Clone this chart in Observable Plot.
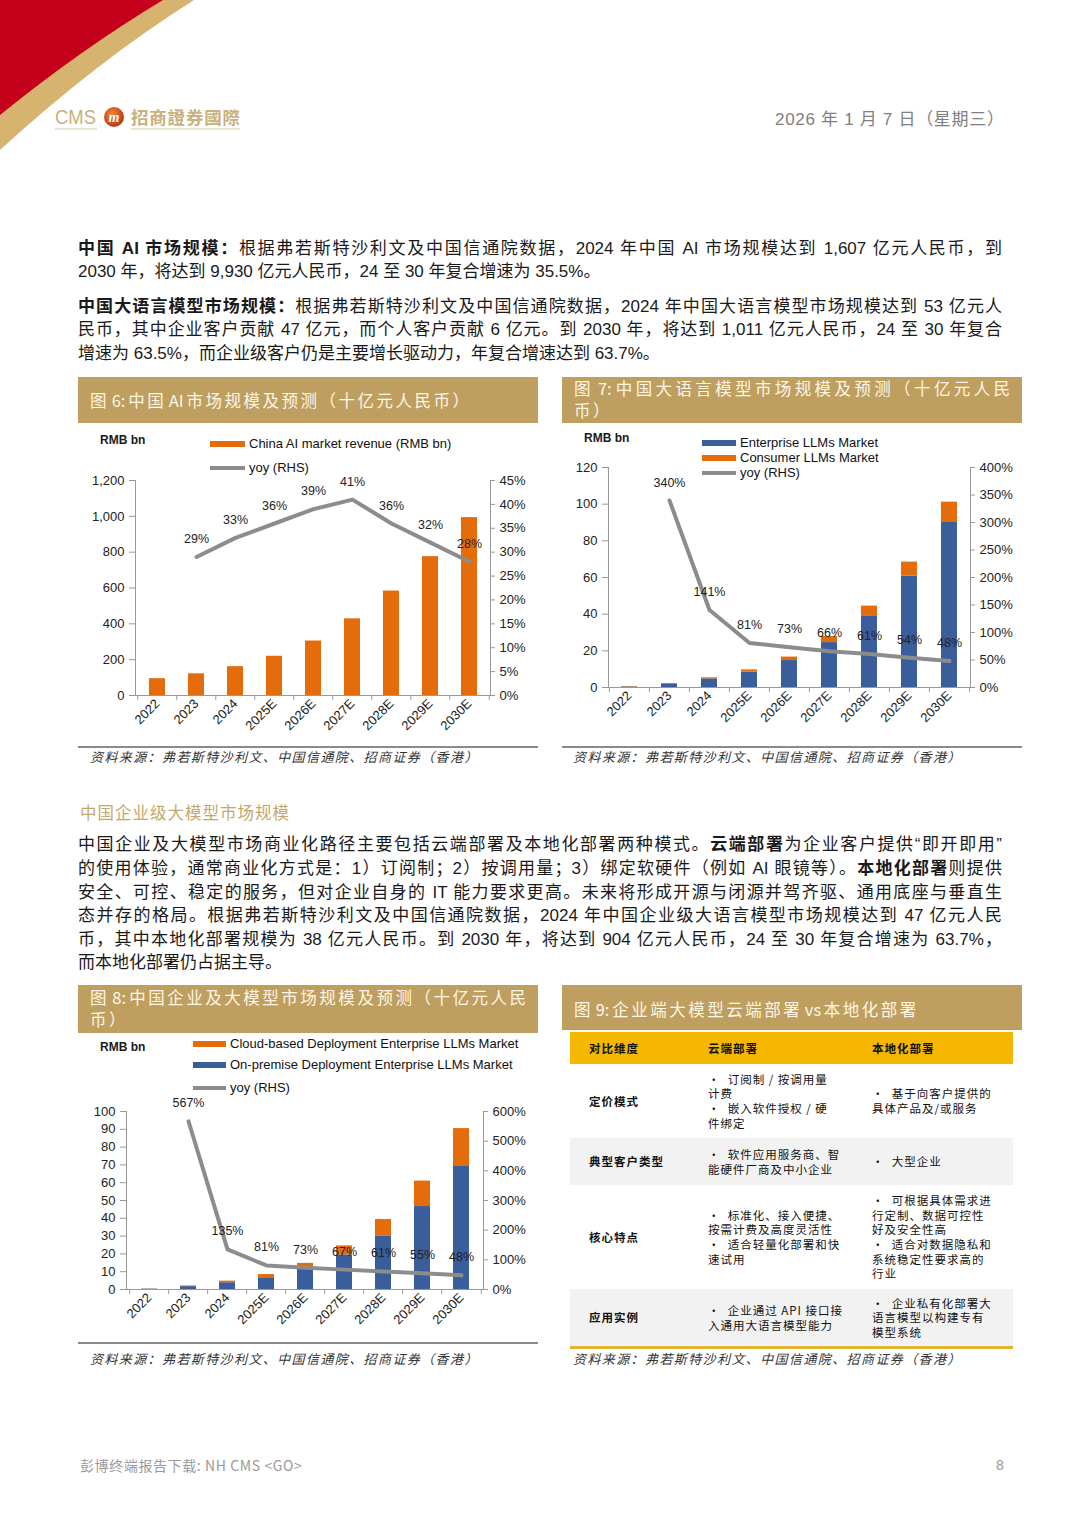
<!DOCTYPE html>
<html lang="zh-CN">
<head>
<meta charset="utf-8">
<script src="https://cdn.jsdelivr.net/npm/d3@7"></script>
<script src="https://cdn.jsdelivr.net/npm/@observablehq/plot@0.6"></script>
<style>
html,body{margin:0;padding:0;background:#fff;}
#page{position:relative;width:1080px;height:1526px;overflow:hidden;background:#fff;font-family:"Liberation Sans",Arial,"Noto Sans CJK SC",sans-serif;color:#1a1a1a;}
.a{position:absolute;}
.ln{position:absolute;left:78px;width:924px;height:24px;line-height:24px;font-size:17px;white-space:nowrap;text-align:justify;text-align-last:justify;}
.ln.l{text-align-last:left;}
.ln b{font-weight:700;}
.tbar{position:absolute;background:#BE9F5F;color:#FFF6E6;font-family:"Noto Sans CJK SC","Liberation Sans",sans-serif;font-size:16.5px;letter-spacing:2.5px;}
.tbar > div{position:absolute;left:12px;white-space:nowrap;line-height:22px;}
.tbar span{letter-spacing:0;word-spacing:-1px;}
.tbar .j{width:438px;text-align:justify;text-align-last:justify;letter-spacing:2px;}
.src{position:absolute;font-family:"Noto Sans CJK SC",sans-serif;font-style:italic;font-size:13px;letter-spacing:1.4px;color:#333;white-space:nowrap;line-height:18px;}
.rule{position:absolute;height:2px;background:#8a8a8a;}
.rmb{position:absolute;font-weight:700;font-size:12px;line-height:14px;white-space:nowrap;}
.lg{position:absolute;font-size:13px;line-height:16px;white-space:nowrap;color:#111;}
.sw{position:absolute;}
.chart{position:absolute;}
#tbl{position:absolute;left:570px;top:1032px;width:443px;font-family:"Noto Sans CJK SC",sans-serif;font-size:11.5px;letter-spacing:1px;color:#111;}
#tbl .row{position:relative;width:443px;}
#tbl .cell{position:absolute;top:0;bottom:0;display:flex;align-items:center;white-space:nowrap;line-height:14.6px;}
#tbl .hd{background:#F5B700;height:32px;font-weight:700;}
#tbl .g{background:#F2F2F2;}
#tbl .lab{font-weight:700;}
</style>
</head>
<body>
<div id="page">
  <svg class="a" style="left:0;top:0" width="260" height="160">
    <path d="M0,0 L194,0 Q96,62 0,150 Z" fill="#D6B36E"/>
    <path d="M0,0 L163,0 Q80,50 0,115 Z" fill="#C4001A"/>
    <text x="55" y="124" font-family="Liberation Sans, Arial, sans-serif" font-size="20" fill="#C9B07C" textLength="41" lengthAdjust="spacingAndGlyphs">CMS</text>
    <line x1="55" y1="129" x2="97" y2="129" stroke="#D9C9A4" stroke-width="1"/>
    <defs><radialGradient id="lg1" cx="40%" cy="35%" r="70%"><stop offset="0" stop-color="#F08A3C"/><stop offset="1" stop-color="#B5300E"/></radialGradient></defs>
    <circle cx="114" cy="117" r="10" fill="url(#lg1)"/>
    <text x="114" y="122" text-anchor="middle" font-family="Liberation Serif, serif" font-style="italic" font-weight="700" font-size="14" fill="#fff">m</text>
    <text x="131" y="124" font-family="Noto Sans CJK TC, Noto Sans CJK SC, sans-serif" font-weight="700" font-size="17.5" fill="#C9B07C" textLength="109" lengthAdjust="spacing">招商證券國際</text>
    <line x1="131" y1="129" x2="240" y2="129" stroke="#D9C9A4" stroke-width="1"/>
  </svg>
  <div class="a" style="left:775px;top:109px;font-size:17px;line-height:22px;color:#808080;white-space:nowrap;letter-spacing:0.7px;">2026 年 1 月 7 日（星期三）</div>

  <div class="ln" style="top:237px"><b>中国 AI 市场规模：</b>根据弗若斯特沙利文及中国信通院数据，2024 年中国 AI 市场规模达到 1,607 亿元人民币，到</div>
  <div class="ln l" style="top:260px">2030 年，将达到 9,930 亿元人民币，24 至 30 年复合增速为 35.5%。</div>

  <div class="ln" style="top:295px"><b>中国大语言模型市场规模：</b>根据弗若斯特沙利文及中国信通院数据，2024 年中国大语言模型市场规模达到 53 亿元人</div>
  <div class="ln" style="top:318px">民币，其中企业客户贡献 47 亿元，而个人客户贡献 6 亿元。到 2030 年，将达到 1,011 亿元人民币，24 至 30 年复合</div>
  <div class="ln l" style="top:342px">增速为 63.5%，而企业级客户仍是主要增长驱动力，年复合增速达到 63.7%。</div>

  <div class="tbar" style="left:78px;top:377px;width:460px;height:46px;"><div style="top:12px">图<span> 6: </span>中国<span> AI </span>市场规模及预测（十亿元人民币）</div></div>
  <div class="tbar" style="left:562px;top:377px;width:460px;height:46px;"><div style="top:0px"><div class="j">图<span> 7: </span>中国大语言模型市场规模及预测（十亿元人民</div>币）</div></div>

  <div id="c6" class="chart" style="left:78px;top:425px;"></div>
  <div id="c7" class="chart" style="left:562px;top:425px;"></div>

  <div class="rule" style="left:78px;top:746px;width:460px;"></div>
  <div class="rule" style="left:562px;top:746px;width:460px;"></div>
  <div class="src" style="left:90px;top:748px;">资料来源：弗若斯特沙利文、中国信通院、招商证券（香港）</div>
  <div class="src" style="left:573px;top:748px;">资料来源：弗若斯特沙利文、中国信通院、招商证券（香港）</div>

  <div class="a" style="left:80px;top:801px;font-size:16.5px;line-height:22px;letter-spacing:1px;color:#C6A76B;font-family:'Noto Sans CJK SC',sans-serif;white-space:nowrap;">中国企业级大模型市场规模</div>

  <div class="ln" style="top:833px">中国企业及大模型市场商业化路径主要包括云端部署及本地化部署两种模式。<b>云端部署</b>为企业客户提供“即开即用”</div>
  <div class="ln" style="top:857px">的使用体验，通常商业化方式是：1）订阅制；2）按调用量；3）绑定软硬件（例如 AI 眼镜等）。<b>本地化部署</b>则提供</div>
  <div class="ln" style="top:881px">安全、可控、稳定的服务，但对企业自身的 IT 能力要求更高。未来将形成开源与闭源并驾齐驱、通用底座与垂直生</div>
  <div class="ln" style="top:904px">态并存的格局。根据弗若斯特沙利文及中国信通院数据，2024 年中国企业级大语言模型市场规模达到 47 亿元人民</div>
  <div class="ln" style="top:928px">币，其中本地化部署规模为 38 亿元人民币。到 2030 年，将达到 904 亿元人民币，24 至 30 年复合增速为 63.7%，</div>
  <div class="ln l" style="top:951px">而本地化部署仍占据主导。</div>

  <div class="tbar" style="left:78px;top:985px;width:460px;height:48px;"><div style="top:1px"><div class="j">图<span> 8: </span>中国企业及大模型市场规模及预测（十亿元人民</div>币）</div></div>
  <div class="tbar" style="left:562px;top:985px;width:460px;height:45px;"><div style="top:13px">图<span> 9: </span>企业端大模型云端部署<span> vs </span>本地化部署</div></div>

  <div id="c8" class="chart" style="left:78px;top:1033px;"></div>

  <div id="tbl">
    <div class="row hd">
      <div class="cell" style="left:19px">对比维度</div>
      <div class="cell" style="left:138px">云端部署</div>
      <div class="cell" style="left:302px">本地化部署</div>
    </div>
    <div class="row" style="height:74px">
      <div class="cell lab" style="left:19px">定价模式</div>
      <div class="cell" style="left:138px">•&nbsp; 订阅制 / 按调用量<br>计费<br>•&nbsp; 嵌入软件授权 / 硬<br>件绑定</div>
      <div class="cell" style="left:302px">•&nbsp; 基于向客户提供的<br>具体产品及/或服务</div>
    </div>
    <div class="row g" style="height:47px">
      <div class="cell lab" style="left:19px">典型客户类型</div>
      <div class="cell" style="left:138px">•&nbsp; 软件应用服务商、智<br>能硬件厂商及中小企业</div>
      <div class="cell" style="left:302px">•&nbsp; 大型企业</div>
    </div>
    <div class="row" style="height:104px">
      <div class="cell lab" style="left:19px">核心特点</div>
      <div class="cell" style="left:138px">•&nbsp; 标准化、接入便捷、<br>按需计费及高度灵活性<br>•&nbsp; 适合轻量化部署和快<br>速试用</div>
      <div class="cell" style="left:302px">•&nbsp; 可根据具体需求进<br>行定制、数据可控性<br>好及安全性高<br>•&nbsp; 适合对数据隐私和<br>系统稳定性要求高的<br>行业</div>
    </div>
    <div class="row g" style="height:57px">
      <div class="cell lab" style="left:19px">应用实例</div>
      <div class="cell" style="left:138px">•&nbsp; 企业通过 API 接口接<br>入通用大语言模型能力</div>
      <div class="cell" style="left:302px">•&nbsp; 企业私有化部署大<br>语言模型以构建专有<br>模型系统</div>
    </div>
    <div style="height:3px;background:#E3B335;"></div>
  </div>

  <div class="rule" style="left:78px;top:1342px;width:460px;"></div>
  <div class="src" style="left:90px;top:1350px;">资料来源：弗若斯特沙利文、中国信通院、招商证券（香港）</div>
  <div class="src" style="left:573px;top:1350px;">资料来源：弗若斯特沙利文、中国信通院、招商证券（香港）</div>

  <div class="a" style="left:80px;top:1456px;font-size:14px;line-height:18px;color:#9a9a9a;white-space:nowrap;letter-spacing:0.6px;font-family:'Noto Sans CJK SC','Liberation Sans',sans-serif;">彭博终端报告下载: NH CMS &lt;GO&gt;</div>
  <div class="a" style="left:996px;top:1456px;font-size:14px;line-height:18px;color:#9a9a9a;">8</div>
</div>

<script>
// ---------- data ----------
const years = ["2022", "2023", "2024", "2025E", "2026E", "2027E", "2028E", "2029E", "2030E"];

// Fig 6: China AI market (RMB bn) and yoy (%)
const aiRevenue = [94, 121, 161, 219, 304, 428, 583, 775, 993];
const aiYoy = [null, 29, 33, 36, 39, 41, 36, 32, 28];

// Fig 7: China LLM market (RMB bn) and yoy (%)
const llmEnterprise = [0.3, 2.0, 4.7, 8.4, 14.7, 24.5, 39.1, 60.7, 90.4];
const llmConsumer = [0.2, 0.2, 0.6, 1.2, 1.9, 3.3, 5.3, 7.7, 10.7];
const llmYoy = [null, 340, 141, 81, 73, 66, 61, 54, 48];

// Fig 8: China enterprise LLM market (RMB bn) and yoy (%)
const onPremise = [0.2, 1.6, 3.8, 6.6, 12.4, 19.4, 30.1, 46.6, 69.1];
const cloudBased = [0.1, 0.4, 0.9, 1.8, 2.3, 5.1, 9.2, 14.3, 21.3];
const entYoy = [null, 567, 135, 81, 73, 67, 61, 55, 48];

const orange = "#E46C0A", blue = "#3A5D9C", gray = "#8C8C8C";

function combo(el, cfg) {
  const {series, yoy, yMax, yStep, yFmt, rMax, rStep, width, height, mt, mb, ml, mr, legend} = cfg;
  const rows = [];
  series.forEach(s => years.forEach((yr, i) => rows.push({year: yr, name: s.name, value: s.values[i]})));
  const toL = v => v / rMax * yMax;
  const pts = years.map((yr, i) => ({year: yr, yoy: yoy[i]})).filter(d => d.yoy != null);
  const step = (width - ml - mr) / 9;
  const tl = 5 / (height - mt - mb) * yMax;
  const chart = Plot.plot({
    width, height, marginTop: mt, marginBottom: mb, marginLeft: ml, marginRight: mr,
    style: {fontFamily: '"Liberation Sans", Arial, sans-serif', fontSize: "13px", color: "#222", background: "transparent", overflow: "visible"},
    x: {type: "band", domain: years, paddingInner: 0.6, paddingOuter: 0.3},
    y: {domain: [0, yMax]},
    color: {domain: series.map(s => s.name), range: series.map(s => s.color)},
    marks: [
      Plot.barY(rows, {x: "year", y: "value", fill: "name"}),
      Plot.ruleY([0], {stroke: "#999"}),
      Plot.frame({anchor: "left", stroke: "#999"}),
      Plot.frame({anchor: "right", stroke: "#999"}),
      Plot.ruleX(years, {x: d => d, y1: 0, y2: -tl, dx: -step / 2, stroke: "#999"}),
      Plot.ruleX(years.slice(-1), {x: d => d, y1: 0, y2: -tl, dx: step / 2, stroke: "#999"}),
      Plot.line(pts, {x: "year", y: d => toL(d.yoy), stroke: gray, strokeWidth: 4}),
      Plot.text(pts, {x: "year", y: d => toL(d.yoy), text: d => d.yoy + "%", dy: -18, fontSize: 12.5, fill: "#222"}),
      Plot.axisY(d3.range(0, yMax + yStep / 2, yStep), {anchor: "left", tickFormat: yFmt, tickSize: 6, tickPadding: 5, stroke: "#999", fill: "#222", label: null}),
      Plot.axisY(d3.range(0, rMax + rStep / 2, rStep).map(toL), {anchor: "right", tickFormat: d => Math.round(d / yMax * rMax) + "%", tickSize: 4, tickPadding: 5, stroke: "#999", fill: "#222", label: null}),
      Plot.axisX({tickSize: 0, tickPadding: 6, tickRotate: -45, fill: "#222", label: null})
    ]
  });
  const host = document.getElementById(el);
  host.appendChild(chart);
  const r = document.createElement("div");
  r.className = "rmb"; r.textContent = "RMB bn";
  r.style.left = cfg.rmb[0] + "px"; r.style.top = cfg.rmb[1] + "px";
  host.appendChild(r);
  legend.items.forEach((it, k) => {
    const cy = legend.ys[k];
    const sw = document.createElement("div");
    sw.className = "sw";
    const h = it.type === "line" ? 4 : 6;
    sw.style.left = legend.x + "px"; sw.style.width = legend.w + "px";
    sw.style.top = (cy - h / 2) + "px"; sw.style.height = h + "px";
    sw.style.background = it.color;
    host.appendChild(sw);
    const t = document.createElement("div");
    t.className = "lg"; t.textContent = it.label;
    t.style.left = (legend.x + legend.w + 4) + "px"; t.style.top = (cy - 8) + "px";
    host.appendChild(t);
  });
}

combo("c6", {
  series: [{name: "China AI market revenue (RMB bn)", values: aiRevenue, color: orange}],
  yoy: aiYoy, yMax: 1200, yStep: 200, yFmt: d3.format(","), rMax: 45, rStep: 5,
  width: 460, height: 315, mt: 55, mb: 45, ml: 57, mr: 48,
  rmb: [22, 8],
  legend: {x: 132, w: 35, ys: [19, 43], items: [
    {label: "China AI market revenue (RMB bn)", type: "bar", color: orange},
    {label: "yoy (RHS)", type: "line", color: gray}]}
});

combo("c7", {
  series: [{name: "Enterprise LLMs Market", values: llmEnterprise, color: blue},
           {name: "Consumer LLMs Market", values: llmConsumer, color: orange}],
  yoy: llmYoy, yMax: 120, yStep: 20, yFmt: d3.format("d"), rMax: 400, rStep: 50,
  width: 460, height: 312, mt: 42, mb: 50, ml: 46, mr: 52,
  rmb: [22, 6],
  legend: {x: 140, w: 34, ys: [17.5, 32.5, 48], items: [
    {label: "Enterprise LLMs Market", type: "bar", color: blue},
    {label: "Consumer LLMs Market", type: "bar", color: orange},
    {label: "yoy (RHS)", type: "line", color: gray}]}
});

combo("c8", {
  series: [{name: "On-premise Deployment Enterprise LLMs Market", values: onPremise, color: blue},
           {name: "Cloud-based Deployment Enterprise LLMs Market", values: cloudBased, color: orange}],
  yoy: entYoy, yMax: 100, yStep: 10, yFmt: d3.format("d"), rMax: 600, rStep: 100,
  width: 460, height: 306, mt: 78, mb: 50, ml: 48, mr: 55,
  rmb: [22, 7],
  legend: {x: 115, w: 33, ys: [11, 32, 55], items: [
    {label: "Cloud-based Deployment Enterprise LLMs Market", type: "bar", color: orange},
    {label: "On-premise Deployment Enterprise LLMs Market", type: "bar", color: blue},
    {label: "yoy (RHS)", type: "line", color: gray}]}
});
</script>
</body>
</html>
